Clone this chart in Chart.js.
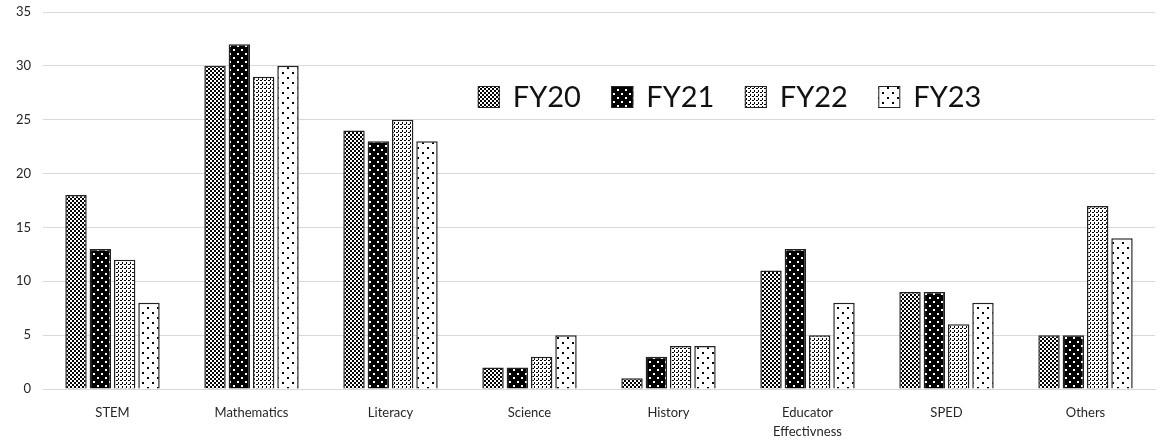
<!DOCTYPE html>
<html>
<head>
<meta charset="utf-8">
<script src="https://cdn.jsdelivr.net/npm/chart.js@4"></script>
<style>
  html, body { margin: 0; padding: 0; background: #fff; }
  #wrap { position: relative; width: 1167px; height: 444px; }
</style>
</head>
<body>
<div id="wrap"><canvas id="fyChart" width="1167" height="444"></canvas></div>
<script>
// Data
const categories = ["STEM", "Mathematics", "Literacy", "Science", "History", ["Educator", "Effectivness"], "SPED", "Others"];
const seriesNames = ["FY20", "FY21", "FY22", "FY23"];
const fy20 = [18, 30, 24, 2, 1, 11, 9, 5];
const fy21 = [13, 32, 23, 2, 3, 13, 9, 5];
const fy22 = [12, 29, 25, 3, 4, 5, 6, 17];
const fy23 = [8, 30, 23, 5, 4, 8, 8, 14];
const yMax = 35;
const yStep = 5;

// Fill patterns (Excel-like)
function makePattern(size, bg, fg, dots) {
  const c = document.createElement("canvas");
  c.width = size; c.height = size;
  const x = c.getContext("2d");
  x.fillStyle = bg;
  x.fillRect(0, 0, size, size);
  x.fillStyle = fg;
  dots.forEach(d => x.fillRect(d[0], d[1], d[2], d[3]));
  return document.createElement("canvas").getContext("2d").createPattern(c, "repeat");
}

const patterns = [
  makePattern(4, "#fff", "#000", [[0, 0, 2, 2], [2, 2, 2, 2]]),          // FY20 checker
  makePattern(8, "#000", "#fff", [[1, 1, 2, 2], [5, 5, 2, 2]]),          // FY21 white dots on black
  makePattern(4, "#fff", "#000", [[0, 0, 2, 1], [2, 2, 1, 2]]),          // FY22 dense dots
  makePattern(10, "#fff", "#000", [[2, 2, 2, 2], [7, 7, 2, 2]])          // FY23 sparse dots
];

const seriesValues = [fy20, fy21, fy22, fy23];

// Legend drawn inside the plot area
const inPlotLegend = {
  id: "inPlotLegend",
  afterDraw(chart) {
    const { ctx, chartArea } = chart;
    const startX = chartArea.left + (chartArea.right - chartArea.left) * 0.391;
    const cy = chartArea.top + 85;
    const step = 133.5;
    ctx.save();
    ctx.font = "29px Lato, 'Open Sans', sans-serif";
    ctx.textBaseline = "middle";
    chart.data.datasets.forEach((ds, i) => {
      const x = startX + i * step;
      ctx.fillStyle = ds.backgroundColor;
      ctx.fillRect(x, cy - 11, 22, 22);
      ctx.strokeStyle = "#222";
      ctx.lineWidth = 1;
      ctx.strokeRect(x + 0.5, cy - 10.5, 21, 21);
      ctx.fillStyle = "#111";
      ctx.fillText(ds.label, x + 35, cy + 1);
    });
    ctx.restore();
  }
};

const ctx = document.getElementById("fyChart").getContext("2d");
new Chart(ctx, {
  type: "bar",
  data: {
    labels: categories,
    datasets: seriesNames.map((name, i) => ({
      label: name,
      data: seriesValues[i],
      backgroundColor: patterns[i],
      borderColor: "#222",
      borderWidth: 1.5,
      categoryPercentage: 0.7,
      barPercentage: 0.88
    }))
  },
  options: {
    responsive: false,
    animation: false,
    layout: { padding: { top: 12, right: 12, bottom: 0, left: 0 } },
    plugins: {
      legend: { display: false },
      tooltip: { enabled: false }
    },
    scales: {
      x: {
        grid: { display: false, drawTicks: false },
        border: { color: "#d9d9d9", width: 1 },
        afterFit(scale) { scale.height = 55; },
        ticks: {
          color: "#262626",
          padding: 14,
          font: { family: "Lato, 'Open Sans', sans-serif", size: 13, lineHeight: 1.5 },
          maxRotation: 0,
          autoSkip: false
        }
      },
      y: {
        min: 0,
        max: yMax,
        grid: { color: "#d9d9d9", drawTicks: false },
        border: { display: false },
        afterFit(scale) {
          scale.width = 43;
          scale.paddingTop = 0;
          scale.paddingBottom = 0;
        },
        ticks: {
          stepSize: yStep,
          color: "#262626",
          padding: 12,
          font: { family: "Lato, 'Open Sans', sans-serif", size: 13 }
        }
      }
    }
  },
  plugins: [inPlotLegend]
});
</script>
</body>
</html>
